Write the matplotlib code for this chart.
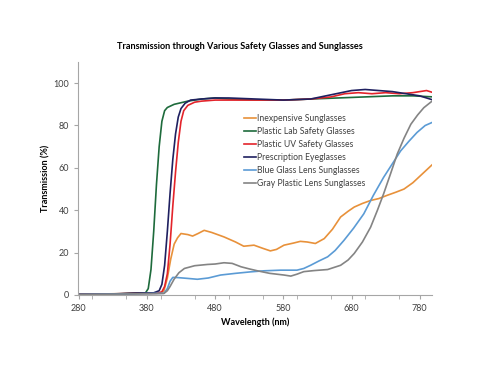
import matplotlib
matplotlib.use("Agg")
import matplotlib.pyplot as plt
from matplotlib.ticker import MultipleLocator

plt.rcParams['font.family'] = ['Lato', 'DejaVu Sans']

# wavelength (nm) / transmission (%)
wl_orange = [280, 360, 400, 405, 410, 415, 420, 425, 430, 440, 447, 455, 464, 475, 493, 510, 522, 537,
             550, 561, 570, 581, 595, 605, 615, 627, 640, 652, 664, 675, 684, 696, 708, 720, 732, 745,
             757, 770, 781, 790, 800]
t_orange = [0.3, 0.7, 0.8, 2, 8, 17, 24, 27, 29, 28.5, 27.8, 29, 30.5, 29.5, 27.4, 25, 23, 23.5,
            22, 20.8, 21.5, 23.5, 24.5, 25.3, 25, 24.3, 26.6, 31, 36.8, 39.5, 41.5, 43.2, 44.6, 45.5, 47, 48.5,
            50, 53, 56.3, 59, 62]

wl_green = [280, 300, 320, 340, 360, 370, 378, 382, 386, 390, 394, 398, 402, 406, 410, 420, 440, 460,
            480, 500, 540, 580, 620, 660, 700, 740, 770, 800]
t_green = [0.3, 0.3, 0.4, 0.5, 0.8, 0.9, 1.0, 3, 12, 30, 52, 70, 82, 87, 88.5, 90, 91.5, 92.5,
           93, 92.5, 92, 92, 92.5, 93, 93.5, 94, 94, 93.5]

wl_red = [280, 320, 360, 395, 402, 406, 410, 414, 418, 422, 426, 430, 434, 440, 450, 460, 480, 520,
          580, 620, 650, 670, 690, 710, 730, 750, 770, 790, 800]
t_red = [0.3, 0.4, 0.7, 0.8, 1.5, 4, 10, 24, 42, 58, 72, 82, 87, 89.5, 91, 91.5, 92, 92,
         92, 92.5, 93.5, 95, 95.5, 95, 95.5, 95, 95.5, 96.5, 95.5]

wl_navy = [280, 320, 360, 390, 398, 402, 406, 410, 414, 418, 422, 426, 430, 436, 444, 460, 480, 500,
           540, 580, 620, 650, 680, 700, 720, 740, 760, 780, 800]
t_navy = [0.3, 0.4, 0.8, 1.0, 2, 5, 14, 30, 48, 64, 76, 84, 88, 90.5, 92, 92.5, 93, 93,
          92.5, 92, 92.5, 94.5, 96.5, 97, 96.5, 96, 95, 94, 92]

wl_blue = [280, 360, 405, 410, 414, 418, 425, 440, 454, 470, 488, 510, 532, 552, 576, 600, 610, 620,
           632, 645, 656, 669, 683, 698, 712, 727, 740, 752, 764, 776, 788, 800]
t_blue = [0.2, 0.5, 0.8, 3, 6.5, 8.3, 8.2, 7.8, 7.4, 8, 9.4, 10.2, 10.9, 11.4, 11.7, 11.7, 12.5, 14,
          16, 18, 21, 25.8, 31.5, 38.3, 47, 55.5, 62, 68, 72.5, 76.7, 80, 81.7]

wl_gray = [280, 360, 405, 410, 414, 420, 427, 435, 450, 469, 480, 493, 505, 518, 530, 542, 560, 581,
           591, 600, 610, 625, 645, 664, 675, 684, 696, 708, 718, 727, 737, 747, 757, 767, 777, 786, 800]
t_gray = [0.2, 0.5, 0.7, 2, 4, 7.5, 10.5, 12.5, 13.8, 14.4, 14.6, 15.2, 14.9, 13.3, 12.3, 11.4, 10.2, 9.4,
          8.9, 9.8, 11, 11.5, 12, 14, 16.5, 19.6, 25, 32, 40, 47.7, 57, 66.5, 74, 80.6, 85, 88.4, 92]

series = [
    ("Inexpensive Sunglasses", wl_orange, t_orange, "#E8913A"),
    ("Plastic Lab Safety Glasses", wl_green, t_green, "#1E6B3C"),
    ("Plastic UV Safety Glasses", wl_red, t_red, "#E3242B"),
    ("Prescription Eyeglasses", wl_navy, t_navy, "#1F2060"),
    ("Blue Glass Lens Sunglasses", wl_blue, t_blue, "#5B9BD5"),
    ("Gray Plastic Lens Sunglasses", wl_gray, t_gray, "#848484"),
]

fig = plt.figure(figsize=(4.8, 3.71), dpi=100)
ax = fig.add_axes([0.1625, 0.205, 0.7375, 0.628])

for name, x, y, c in series:
    ax.plot(x, y, color=c, lw=1.2, label=name)

ax.set_xlim(279, 798)
ax.set_ylim(0, 110)
ax.xaxis.set_minor_locator(MultipleLocator(50))
ax.set_xticks(range(280, 781, 100))
ax.set_yticks(range(0, 101, 20))

for s in ['top', 'right']:
    ax.spines[s].set_visible(False)
for s in ['left', 'bottom']:
    ax.spines[s].set_color('#A6A6A6')
    ax.spines[s].set_linewidth(0.8)
ax.tick_params(axis='both', which='both', color='#A6A6A6', labelsize=6.5, labelcolor='#404040')
ax.tick_params(axis='both', which='major', length=3)
ax.tick_params(axis='x', which='minor', length=3)

ax.set_xlabel("Wavelength (nm)", fontsize=6.5, fontweight='bold', labelpad=3)
ax.set_ylabel("Transmission (%)", fontsize=6.5, fontweight='bold', labelpad=2)
fig.suptitle("Transmission through Various Safety Glasses and Sunglasses",
             x=0.5, y=0.888, fontsize=6.6, fontweight='bold')

leg = ax.legend(loc='upper left', bbox_to_anchor=(0.46, 0.79), frameon=False,
                fontsize=6.2, handlelength=1.4, handletextpad=0.1, labelspacing=0.45,
                borderaxespad=0)
for t in leg.get_texts():
    t.set_color('#404040')

fig.savefig("out.png", dpi=100)
